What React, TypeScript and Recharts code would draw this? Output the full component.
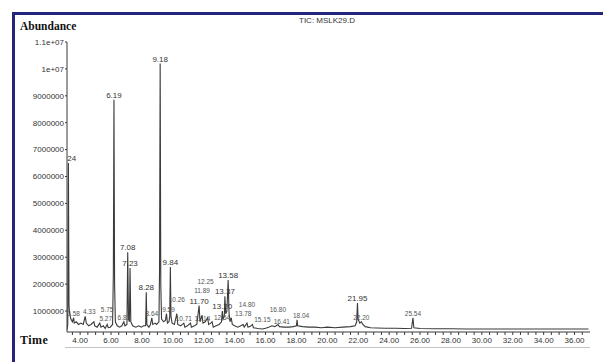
import { ComposedChart, Line, Scatter, XAxis, YAxis } from 'recharts'

// TIC trace, retention time (min) and abundance (millions)
const traceTime = [
  3.15, 3.2, 3.24, 3.28, 3.32, 3.4, 3.5, 3.58, 3.62, 3.75, 3.9, 4.05, 4.2, 4.33, 4.4, 4.55,
  4.7, 4.89, 4.95, 5.1, 5.27, 5.35, 5.5, 5.62, 5.75, 5.82, 5.95, 6.1, 6.15, 6.19, 6.23, 6.28,
  6.4, 6.55, 6.7, 6.83, 6.9, 7.03, 7.08, 7.13, 7.19, 7.23, 7.28, 7.4, 7.6, 7.8, 7.95, 8.1,
  8.24, 8.28, 8.32, 8.45, 8.55, 8.64, 8.7, 8.85, 8.95, 9.1, 9.14, 9.18, 9.22, 9.27, 9.4, 9.52,
  9.59, 9.65, 9.75, 9.8, 9.84, 9.88, 9.95, 10.1, 10.26, 10.32, 10.5, 10.71, 10.78, 10.95, 11.14, 11.2,
  11.4, 11.55, 11.7, 11.76, 11.89, 11.95, 12.1, 12.25, 12.32, 12.45, 12.54, 12.62, 12.8, 13.0, 13.15, 13.2,
  13.25, 13.33, 13.37, 13.42, 13.5, 13.58, 13.64, 13.7, 13.78, 13.85, 14.0, 14.2, 14.4, 14.55, 14.62, 14.8,
  14.86, 15.0, 15.15, 15.22, 15.5, 15.8, 16.0, 16.2, 16.41, 16.6, 16.8, 16.9, 17.2, 17.5, 17.8, 18.0,
  18.04, 18.08, 18.4, 18.8, 19.2, 19.6, 20.0, 20.5, 21.0, 21.5, 21.8, 21.9, 21.95, 21.99, 22.1, 22.2,
  22.3, 22.45, 22.8, 23.2, 23.8, 24.4, 25.0, 25.45, 25.54, 25.6, 26.0, 27.0, 28.0, 29.0, 30.0, 31.0,
  32.0, 33.0, 34.0, 35.0, 36.0, 36.9,
]
const traceAbundance = [
  0.3, 0.5, 6.5, 1.2, 0.9, 0.7, 0.6, 0.75, 0.55, 0.6, 0.5, 0.55, 0.5, 0.8, 0.55, 0.45,
  0.5, 0.6, 0.45, 0.4, 0.55, 0.4, 0.45, 0.35, 0.5, 0.38, 0.4, 0.5, 2.4, 8.85, 2.0, 0.6,
  0.45, 0.4, 0.45, 0.6, 0.45, 0.5, 3.18, 0.7, 0.6, 2.6, 0.6, 0.45, 0.4, 0.45, 0.4, 0.45,
  0.45, 1.7, 0.5, 0.4, 0.5, 0.75, 0.5, 0.55, 0.5, 0.6, 2.5, 10.2, 2.0, 0.7, 0.6, 0.65,
  0.9, 0.55, 0.6, 0.8, 2.64, 0.8, 0.55, 0.5, 0.9, 0.5, 0.45, 0.55, 0.4, 0.45, 0.55, 0.4,
  0.45, 0.5, 1.2, 0.6, 0.85, 0.55, 0.6, 0.75, 0.5, 0.55, 0.6, 0.4, 0.45, 0.5, 0.6, 1.0,
  0.7, 0.8, 1.55, 0.9, 1.0, 2.15, 0.9, 0.6, 0.75, 0.5, 0.45, 0.4, 0.45, 0.5, 0.4, 0.55,
  0.4, 0.42, 0.5, 0.38, 0.35, 0.33, 0.36, 0.4, 0.45, 0.42, 0.5, 0.42, 0.4, 0.4, 0.42, 0.45,
  0.67, 0.45, 0.42, 0.4, 0.4, 0.38, 0.4, 0.38, 0.4, 0.42, 0.45, 0.6, 1.3, 0.7, 0.55, 0.6,
  0.5, 0.42, 0.38, 0.37, 0.36, 0.36, 0.35, 0.36, 0.75, 0.38, 0.35, 0.34, 0.34, 0.33, 0.33, 0.33,
  0.33, 0.33, 0.33, 0.33, 0.33, 0.33,
]

// labelled peaks
const peakTime = [
  3.24, 3.58, 4.33, 5.27, 5.75, 6.19, 6.83, 7.08, 7.23, 8.28, 8.64, 9.18, 9.59, 9.84, 10.26,
  10.71, 11.14, 11.7, 11.89, 12.25, 12.54, 13.2, 13.37, 13.58, 13.78, 14.8, 15.15, 16.41, 16.8,
  18.04, 21.95, 22.2, 25.54,
]
const peakAbundance = [
  6.5, 0.75, 0.8, 0.55, 0.5, 8.85, 0.6, 3.18, 2.6, 1.7, 0.75, 10.2, 0.9, 2.64, 0.9,
  0.55, 0.55, 1.2, 0.85, 0.75, 0.6, 1.0, 1.55, 2.15, 0.75, 0.55, 0.5, 0.45, 0.5,
  0.67, 1.3, 0.6, 0.75,
]
const peakLabel = [
  '3.24', '3.58', '4.33', '5.27', '5.75', '6.19', '6.83', '7.08', '7.23', '8.28', '8.64', '9.18', '9.59', '9.84', '10.26',
  '10.71', '11.14', '11.70', '11.89', '12.25', '12.54', '13.20', '13.37', '13.58', '13.78', '14.80', '15.15', '16.41', '16.80',
  '18.04', '21.95', '22.20', '25.54',
]

const yTicks = [1, 2, 3, 4, 5, 6, 7, 8, 9, 10, 11]
const yTickLabels = [
  '1000000', '2000000', '3000000', '4000000', '5000000', '6000000',
  '7000000', '8000000', '9000000', '1e+07', '1.1e+07',
]
const xMajorTicks = [4, 6, 8, 10, 12, 14, 16, 18, 20, 22, 24, 26, 28, 30, 32, 34, 36]
const xTickLabels = [
  '4.00', '6.00', '8.00', '10.00', '12.00', '14.00', '16.00', '18.00', '20.00',
  '22.00', '24.00', '26.00', '28.00', '30.00', '32.00', '34.00', '36.00',
]

const trace = traceTime.map((t, i) => ({ t, v: traceAbundance[i] }))

// approximate pixel scale of the plot, only used to keep crowded labels apart
const PX_PER_MIN = 15.45
const PX_PER_M = 26.9

type Box = { x0: number; x1: number; y0: number; y1: number }
const labelBox = (t: number, v: number, label: string, dx: number, lift: number): Box => {
  const fs = v < 1 ? 6.5 : 8
  const w = label.length * fs * 0.54 + 1
  const cx = t * PX_PER_MIN + dx
  const base = v * PX_PER_M + 2 + lift
  return { x0: cx - w / 2, x1: cx + w / 2, y0: base - 1.8, y1: base + fs }
}
const hits = (a: Box, b: Box) => a.x0 < b.x1 && b.x0 < a.x1 && a.y0 < b.y1 && b.y0 < a.y1

// candidate nudges for a baseline label, cheapest first
const nudges: { dx: number; lift: number }[] = []
for (let lift = 0; lift <= 40; lift += 2) {
  for (let dx = -12; dx <= 12; dx += 2) nudges.push({ dx, lift })
}
nudges.sort((a, b) => Math.abs(a.dx) + a.lift * 1.2 - (Math.abs(b.dx) + b.lift * 1.2))

// big labels stay on their peaks, crowded baseline labels are nudged clear
const placed: Box[] = []
const shift = peakTime.map(() => ({ dx: 0, lift: 0 }))
peakTime.forEach((t, i) => {
  if (peakAbundance[i] >= 1) placed.push(labelBox(t, peakAbundance[i], peakLabel[i], 0, 0))
})
peakTime.forEach((t, i) => {
  if (peakAbundance[i] >= 1) return
  const pick =
    nudges.find((n) => {
      const box = labelBox(t, peakAbundance[i], peakLabel[i], n.dx, n.lift)
      return !placed.some((b) => hits(b, box))
    }) ?? nudges[0]
  shift[i] = pick
  placed.push(labelBox(t, peakAbundance[i], peakLabel[i], pick.dx, pick.lift))
})
const peaks = peakTime.map((t, i) => ({
  t,
  v: peakAbundance[i],
  label: peakLabel[i],
  dx: shift[i].dx,
  lift: shift[i].lift,
  small: peakAbundance[i] < 1,
}))

// minor ticks every half minute, labels only on the majors
const xTicks = Array.from({ length: 67 }, (_, i) => 3.5 + i * 0.5)

const sans = '"Liberation Sans", Arial, sans-serif'
const serif = '"Liberation Serif", "Times New Roman", serif'
const ink = '#3a3a3a'

const PeakLabel = (props: any) => {
  const { cx, cy, payload } = props
  return (
    <text
      x={cx + payload.dx}
      y={cy - 2 - payload.lift}
      textAnchor="middle"
      fontSize={payload.small ? 6.5 : 8}
      fontFamily={sans}
      fill={payload.small ? '#555' : '#333'}
    >
      {payload.label}
    </text>
  )
}

export default function App() {
  return (
    <div
      style={{
        position: 'absolute',
        left: 0,
        top: 0,
        width: 603,
        height: 362,
        overflow: 'hidden',
        background: '#fff',
      }}
    >
      {/* navy frame, only top and left edges are in view */}
      <div
        style={{
          position: 'absolute',
          left: 12,
          top: 12,
          width: 640,
          height: 400,
          borderTop: '3px solid #24247a',
          borderLeft: '3px solid #24247a',
        }}
      />
      <div
        style={{
          position: 'absolute',
          left: 20,
          top: 20,
          fontFamily: serif,
          fontWeight: 'bold',
          fontSize: 11.5,
          color: '#111',
        }}
      >
        Abundance
      </div>
      <div
        style={{
          position: 'absolute',
          left: 20,
          top: 333,
          fontFamily: serif,
          fontWeight: 'bold',
          fontSize: 12,
          letterSpacing: 0.5,
          color: '#111',
        }}
      >
        Time
      </div>
      <div
        style={{
          position: 'absolute',
          left: 299,
          top: 16,
          fontFamily: sans,
          fontSize: 8,
          color: '#333',
        }}
      >
        TIC: MSLK29.D
      </div>
      <div
        style={{
          position: 'absolute',
          left: 65,
          top: 347,
          width: 525,
          height: 1,
          background: '#c4c4c4',
        }}
      />
      <div style={{ position: 'absolute', left: 0, top: 0 }}>
        <ComposedChart
          width={603}
          height={362}
          data={trace}
          margin={{ top: 42, right: 13, bottom: 10, left: 10 }}
        >
          <XAxis
            dataKey="t"
            type="number"
            domain={[3.15, 37]}
            allowDataOverflow
            ticks={xTicks}
            interval={0}
            tickSize={3}
            tickMargin={2}
            height={20}
            stroke={ink}
            tick={{ fontSize: 8, fontFamily: sans, fill: '#333' }}
            tickFormatter={(v: number) => {
              const idx = xMajorTicks.indexOf(v)
              return idx >= 0 ? xTickLabels[idx] : ''
            }}
          />
          <YAxis
            type="number"
            domain={[0.22, 11]}
            allowDataOverflow
            ticks={yTicks}
            interval={0}
            width={57}
            tickSize={2}
            tickMargin={1}
            stroke={ink}
            tick={{ fontSize: 8, fontFamily: sans, fill: '#333' }}
            tickFormatter={(v: number) => yTickLabels[yTicks.indexOf(v)] ?? ''}
          />
          <Line
            dataKey="v"
            type="linear"
            stroke={ink}
            strokeWidth={1.1}
            dot={false}
            activeDot={false}
            isAnimationActive={false}
          />
          <Scatter
            data={peaks}
            dataKey="v"
            shape={PeakLabel}
            isAnimationActive={false}
          />
        </ComposedChart>
      </div>
    </div>
  )
}
